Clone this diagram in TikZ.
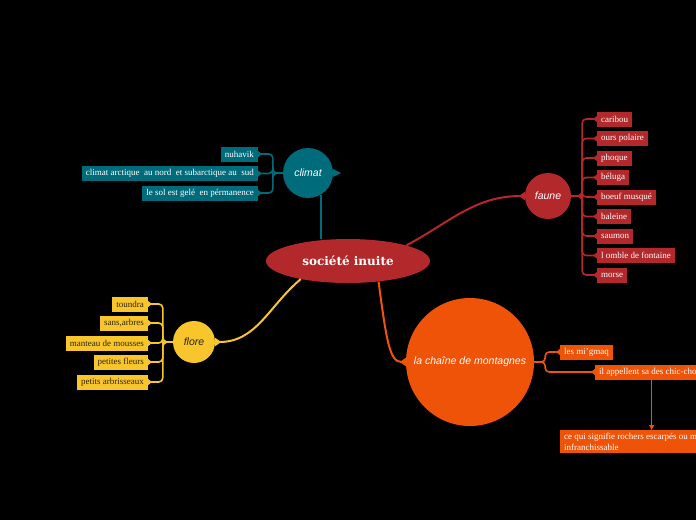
\documentclass[tikz,border=0pt]{standalone}
\usepackage{fontspec}
\setmainfont{Liberation Serif}
\newfontfamily\hubfont{Liberation Sans}
\newfontfamily\rootfont{DejaVu Serif}
\usetikzlibrary{positioning, shapes.geometric, arrows.meta, calc}
\definecolor{climatcol}{HTML}{006B7B}
\definecolor{faunecol}{HTML}{B2282B}
\definecolor{florecol}{HTML}{F8C62C}
\definecolor{montcol}{HTML}{EF5308}
\definecolor{darktext}{HTML}{2B2410}

\begin{document}
\begin{tikzpicture}[
  x=1pt, y=-1pt,
  hub/.style={circle, inner sep=0pt, font=\hubfont\itshape\fontsize{10.5}{12}\selectfont, text=white},
  leaf/.style={rectangle, inner xsep=4pt, inner ysep=2pt, minimum height=15pt,
    font=\fontsize{9}{10.5}\selectfont, text=white},
  link/.style={line width=2pt, -{Triangle[reversed, length=6pt, width=8pt]}},
  leaflink/.style={line width=1.6pt, rounded corners=4pt, -{Triangle[reversed, length=4pt, width=6pt]}}
]
\useasboundingbox (0,0) rectangle (696,520);
\fill[black] (0,0) rectangle (696,520);
\clip (0,0) rectangle (696,520);

% centre
\node[ellipse, fill=faunecol, minimum width=164pt, minimum height=44pt, text=white,
  font=\rootfont\bfseries\fontsize{12}{14}\selectfont] (root) at (348,261) {société inuite};

% hubs
\node[hub, fill=climatcol, minimum size=50pt] (climat) at (308,173) {climat};
\node[hub, fill=faunecol, minimum size=46pt] (faune) at (548,196) {faune};
\node[hub, fill=florecol, minimum size=42pt, text=darktext] (flore) at (194,342) {flore};
\node[hub, fill=montcol, minimum size=128pt] (mont) at (470,362) {la chaîne de montagnes};

% climat
\node[leaf, fill=climatcol, anchor=east] (c1) at (258,154) {nuhavik};
\node[leaf, fill=climatcol, anchor=east] (c2) at (258,173.5) {climat arctique\ \ au nord\ \ et subarctique au\ \ sud};
\node[leaf, fill=climatcol, anchor=east] (c3) at (258,193) {le sol est gelé\ \ en pérmanence};

% faune
\node[leaf, fill=faunecol, anchor=west] (f1) at (597,119) {caribou};
\node[leaf, fill=faunecol, anchor=west] (f2) at (597,138.5) {ours polaire};
\node[leaf, fill=faunecol, anchor=west] (f3) at (597,158) {phoque};
\node[leaf, fill=faunecol, anchor=west] (f4) at (597,177.5) {béluga};
\node[leaf, fill=faunecol, anchor=west] (f5) at (597,197) {boeuf musqué};
\node[leaf, fill=faunecol, anchor=west] (f6) at (597,216.5) {baleine};
\node[leaf, fill=faunecol, anchor=west] (f7) at (597,236) {saumon};
\node[leaf, fill=faunecol, anchor=west] (f8) at (597,255.5) {l omble de fontaine};
\node[leaf, fill=faunecol, anchor=west] (f9) at (597,275) {morse};

% flore
\node[leaf, fill=florecol, text=darktext, anchor=east] (p1) at (148,304) {toundra};
\node[leaf, fill=florecol, text=darktext, anchor=east] (p2) at (148,323) {sans,arbres};
\node[leaf, fill=florecol, text=darktext, anchor=east] (p3) at (148,343) {manteau de mousses};
\node[leaf, fill=florecol, text=darktext, anchor=east] (p4) at (148,362) {petites fleurs};
\node[leaf, fill=florecol, text=darktext, anchor=east] (p5) at (148,382) {petits arbrisseaux};

% montagnes
\node[leaf, fill=montcol, anchor=west] (m1) at (560,352) {les mi'gmaq};
\node[leaf, fill=montcol, anchor=west] (m2) at (595,372) {il appellent sa des chic-chocs};
\node[leaf, fill=montcol, anchor=north west, align=left, inner ysep=3pt] (m3) at (560,430)
  {ce qui signifie rochers escarpés ou murs\\infranchissable};

% links from the centre
\draw[climatcol, line width=2pt] (root.north -| climat.-60) -- (climat.-60);
\fill[climatcol] (climat.east) ++(0,-4) -- ++(8,4) -- ++(-8,4) -- cycle;
\draw[link, faunecol] (root.15) to[out=28, in=180] (faune.west);
\draw[link, florecol] (root.-159) to[out=-140, in=0] (flore.east);
\draw[link, montcol] (root.-34) .. controls ++(8,60) and ++(-16,0) .. (mont.west);

% links to the leaves
\foreach \n in {c1,c2,c3}
  \draw[leaflink, climatcol] (climat.west) -- ++(-10,0) |- (\n.east);
\foreach \n in {f1,f2,f3,f4,f5,f6,f7,f8,f9}
  \draw[leaflink, faunecol] (faune.east) -- ++(11,0) |- (\n.west);
\foreach \n in {p1,p2,p3,p4,p5}
  \draw[leaflink, florecol] (flore.west) -- ++(-10,0) |- (\n.east);
\foreach \n in {m1,m2}
  \draw[leaflink, montcol] (mont.east) -- ++(11,0) |- (\n.west);
\draw[montcol, line width=1.6pt, -{Triangle[length=5pt, width=5pt]}] (m2.south) -- (m2.south |- m3.north);
\end{tikzpicture}
\end{document}
